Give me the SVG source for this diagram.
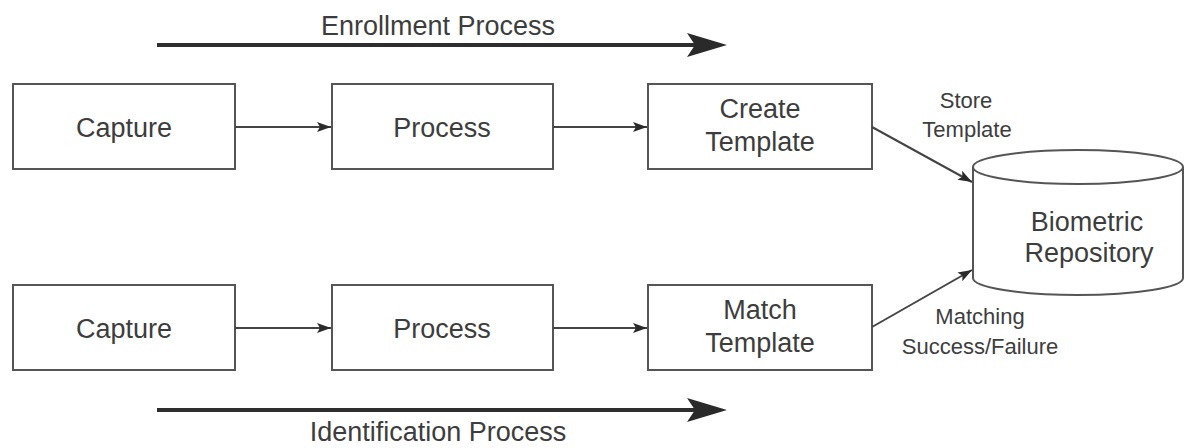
<svg xmlns="http://www.w3.org/2000/svg" width="1186" height="448" viewBox="0 0 1186 448">
  <style>
    .box { fill: #ffffff; stroke: #555555; stroke-width: 2; }
    .lbl { font-family: "Liberation Sans", Arial, sans-serif; font-size: 27px; fill: #3d3d3d; text-anchor: middle; }
    .sm { font-family: "Liberation Sans", Arial, sans-serif; font-size: 22px; fill: #3d3d3d; text-anchor: middle; }
    .conn { fill: none; stroke: #444444; stroke-width: 2; marker-end: url(#arrow); }
    .flow { fill: none; stroke: #2e2e2e; stroke-width: 4; marker-end: url(#bigArrow); }
  </style>
  <defs>
    <marker id="arrow" markerUnits="userSpaceOnUse" markerWidth="16" markerHeight="12" refX="14" refY="5" orient="auto" overflow="visible">
      <path d="M0,0 L14,5 L0,10 L3,5 Z" fill="#2a2a2a"/>
    </marker>
    <marker id="bigArrow" markerUnits="userSpaceOnUse" markerWidth="44" markerHeight="28" refX="12" refY="12" orient="auto" overflow="visible">
      <path d="M0,0 L40,12 L0,24 L8,12 Z" fill="#2a2a2a"/>
    </marker>
  </defs>

  <!-- process direction arrows -->
  <g id="enrollment-process">
    <line class="flow" x1="157" y1="45" x2="699" y2="45"/>
    <text class="lbl" x="438" y="35">Enrollment Process</text>
  </g>
  <g id="identification-process">
    <line class="flow" x1="157" y1="410" x2="699" y2="410"/>
    <text class="lbl" x="438" y="441">Identification Process</text>
  </g>

  <!-- enrollment row -->
  <g id="enroll-capture">
    <rect class="box" x="13" y="84" width="222" height="85"/>
    <text class="lbl" x="124" y="137">Capture</text>
  </g>
  <g id="enroll-process">
    <rect class="box" x="332" y="84" width="221" height="85"/>
    <text class="lbl" x="442" y="137">Process</text>
  </g>
  <g id="create-template">
    <rect class="box" x="648" y="84" width="224" height="85"/>
    <text class="lbl" x="760" y="118">Create</text>
    <text class="lbl" x="760" y="151">Template</text>
  </g>

  <!-- identification row -->
  <g id="ident-capture">
    <rect class="box" x="13" y="285" width="222" height="85"/>
    <text class="lbl" x="124" y="338">Capture</text>
  </g>
  <g id="ident-process">
    <rect class="box" x="332" y="285" width="221" height="85"/>
    <text class="lbl" x="442" y="338">Process</text>
  </g>
  <g id="match-template">
    <rect class="box" x="648" y="285" width="224" height="85"/>
    <text class="lbl" x="760" y="319">Match</text>
    <text class="lbl" x="760" y="352">Template</text>
  </g>

  <!-- data store -->
  <g id="biometric-repository">
    <path class="box" d="M973,167 L973,278 A105,17 0 0 0 1183,278 L1183,167"/>
    <ellipse class="box" cx="1078" cy="167" rx="105" ry="17"/>
    <text class="lbl" x="1087" y="231">Biometric</text>
    <text class="lbl" x="1089" y="262">Repository</text>
  </g>

  <!-- connectors -->
  <g id="connectors">
    <line class="conn" x1="235" y1="127" x2="331" y2="127"/>
    <line class="conn" x1="553" y1="127" x2="647" y2="127"/>
    <line class="conn" x1="235" y1="328" x2="331" y2="328"/>
    <line class="conn" x1="553" y1="328" x2="647" y2="328"/>
    <line class="conn" x1="872" y1="127" x2="972" y2="182"/>
    <line class="conn" x1="872" y1="327" x2="972" y2="270"/>
    <text class="sm" x="966" y="108">Store</text>
    <text class="sm" x="967" y="137">Template</text>
    <text class="sm" x="980" y="324">Matching</text>
    <text class="sm" x="980" y="354">Success/Failure</text>
  </g>
</svg>
